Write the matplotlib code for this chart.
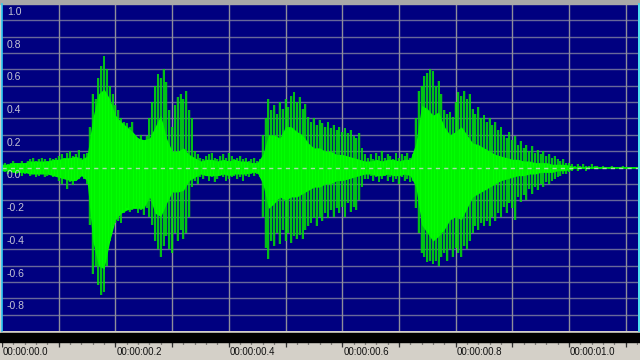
import numpy as np
import matplotlib
matplotlib.use('Agg')
import matplotlib.pyplot as plt
from matplotlib.patches import Rectangle
from matplotlib.lines import Line2D

# sample spacing of the peak (spike) envelope and of the solid body envelope, seconds
PEAK_DT = 0.005
CORE_DT = 0.01

# spike peaks, one value every 5 ms from t = 0
peak_up = [
    0.02, 0.03, 0.02, 0.03, 0.04, 0.03, 0.02, 0.04, 0.03, 0.04,
    0.05, 0.06, 0.04, 0.05, 0.06, 0.05, 0.04, 0.06, 0.05, 0.06,
    0.07, 0.08, 0.06, 0.09, 0.10, 0.07, 0.08, 0.11,
    0.06, 0.08, 0.09,
    0.25, 0.45, 0.42, 0.55, 0.62, 0.68, 0.60, 0.50, 0.45,
    0.38, 0.35, 0.30, 0.28, 0.27, 0.25, 0.28, 0.20, 0.18, 0.20,
    0.17, 0.19, 0.30, 0.40, 0.50, 0.57, 0.55, 0.60, 0.52, 0.35,
    0.25, 0.38, 0.43, 0.45, 0.42, 0.47, 0.35, 0.30, 0.10, 0.08,
    0.06, 0.05, 0.07, 0.08, 0.09, 0.06, 0.05, 0.07, 0.08, 0.06, 0.09,
    0.07, 0.05, 0.06, 0.07, 0.05, 0.06, 0.04, 0.05, 0.06, 0.04, 0.05,
    0.20, 0.30, 0.42, 0.35, 0.38, 0.33, 0.40, 0.36,
    0.42, 0.37, 0.44, 0.46, 0.40, 0.43, 0.36, 0.39, 0.31, 0.28,
    0.30, 0.26, 0.29, 0.27, 0.25, 0.28, 0.24, 0.26, 0.23, 0.25,
    0.22, 0.24, 0.21, 0.23, 0.19, 0.18, 0.21, 0.12, 0.08,
    0.06, 0.08, 0.05, 0.09, 0.07, 0.10, 0.06, 0.08, 0.07, 0.05,
    0.09, 0.06, 0.08, 0.07, 0.09, 0.06, 0.08,
    0.30, 0.47, 0.50, 0.56,
    0.58, 0.60, 0.59, 0.50, 0.53, 0.45, 0.35, 0.33, 0.34, 0.31,
    0.40, 0.46, 0.44, 0.47, 0.42, 0.45, 0.36, 0.33, 0.37, 0.30,
    0.32, 0.28, 0.30, 0.26, 0.28, 0.23, 0.25, 0.20, 0.18, 0.22,
    0.17, 0.19, 0.14, 0.16, 0.12, 0.14, 0.10, 0.13, 0.09, 0.11,
    0.08, 0.10, 0.07, 0.08, 0.06, 0.07, 0.05, 0.04, 0.05, 0.03,
    0.03, 0.02, 0.01, 0.02, 0.01, 0.02, 0.01, 0.01, 0.02, 0.01,
    0.01, 0.005, 0.01, 0.005, 0.005, 0.01, 0.005, 0.005, 0.005, 0.01,
    0.005, 0.005, 0.005, 0.005, 0.005,
]
peak_lo = [
    -0.02, -0.03, -0.04, -0.03, -0.02, -0.04, -0.03, -0.05, -0.04, -0.03,
    -0.05, -0.04, -0.06, -0.05, -0.04, -0.06, -0.05, -0.04, -0.06, -0.05,
    -0.08, -0.10, -0.07, -0.13, -0.09, -0.11, -0.08, -0.07,
    -0.05, -0.07, -0.10,
    -0.35, -0.65, -0.60, -0.72, -0.78, -0.76, -0.60, -0.45, -0.36,
    -0.34, -0.33, -0.34, -0.28, -0.25, -0.27, -0.26, -0.24, -0.28, -0.26,
    -0.29, -0.25, -0.30, -0.35, -0.45, -0.50, -0.55, -0.48, -0.42, -0.50,
    -0.52, -0.40, -0.45, -0.38, -0.44, -0.40, -0.30, -0.12, -0.08, -0.10,
    -0.06, -0.07, -0.05, -0.08, -0.06, -0.09, -0.07, -0.05, -0.06, -0.08, -0.07,
    -0.06, -0.05, -0.07, -0.06, -0.08, -0.05, -0.06, -0.04, -0.05, -0.04, -0.06,
    -0.30, -0.49, -0.56, -0.45, -0.48, -0.40, -0.47, -0.38,
    -0.45, -0.40, -0.46, -0.42, -0.44, -0.41, -0.44, -0.38, -0.36, -0.34,
    -0.31, -0.36, -0.30, -0.33, -0.28, -0.31, -0.26, -0.30, -0.25, -0.28,
    -0.24, -0.30, -0.22, -0.27, -0.24, -0.26, -0.20, -0.12, -0.07,
    -0.07, -0.05, -0.08, -0.06, -0.09, -0.07, -0.05, -0.08, -0.06, -0.09,
    -0.07, -0.10, -0.06, -0.08, -0.07, -0.09, -0.08,
    -0.25, -0.40, -0.52, -0.55,
    -0.58, -0.57, -0.59, -0.57, -0.60, -0.55, -0.52, -0.57, -0.50, -0.55,
    -0.49, -0.52, -0.55, -0.48, -0.50, -0.45, -0.40, -0.36, -0.38, -0.34,
    -0.36, -0.33, -0.36, -0.30, -0.33, -0.28, -0.30, -0.24, -0.28, -0.22,
    -0.25, -0.32, -0.18, -0.21, -0.17, -0.20, -0.13, -0.16, -0.12, -0.14,
    -0.10, -0.12, -0.09, -0.10, -0.08, -0.07, -0.06, -0.05, -0.04, -0.04,
    -0.03, -0.02, -0.01, -0.02, -0.01, -0.01, -0.02, -0.01, -0.01, -0.01,
    -0.005, -0.01, -0.005, -0.005, -0.01, -0.005, -0.005, -0.005, -0.01, -0.005,
    -0.005, -0.005, -0.005, -0.005, -0.005,
]

# solid body of the waveform, one value every 10 ms
core_up = [
    0.02, 0.02, 0.03, 0.03, 0.03, 0.04, 0.04, 0.04,
    0.04, 0.05, 0.05, 0.06, 0.06, 0.07, 0.05, 0.07,
    0.30, 0.45, 0.48, 0.42, 0.32, 0.28, 0.25, 0.22, 0.18, 0.17,
    0.18, 0.25, 0.32, 0.18, 0.10, 0.10, 0.12, 0.08, 0.06,
    0.04, 0.05, 0.05, 0.04, 0.05, 0.04, 0.05, 0.04, 0.04, 0.03, 0.03,
    0.08, 0.20, 0.20, 0.18, 0.25, 0.25, 0.22, 0.20, 0.15, 0.12,
    0.12, 0.10, 0.10, 0.08, 0.08, 0.07, 0.06, 0.05, 0.04,
    0.04, 0.05, 0.04, 0.05, 0.05, 0.04, 0.05, 0.05,
    0.15, 0.38, 0.36, 0.32, 0.34, 0.25, 0.20, 0.22, 0.25, 0.20,
    0.15, 0.14, 0.12, 0.10, 0.08, 0.07, 0.06, 0.05, 0.05, 0.04,
    0.04, 0.03, 0.03, 0.03, 0.02, 0.02, 0.02, 0.015,
    0.005, 0.005, 0.005, 0.005, 0.005, 0.005, 0.005, 0.005, 0.005, 0.005, 0.005, 0.005,
]
core_lo = [
    -0.02, -0.02, -0.03, -0.03, -0.03, -0.04, -0.04, -0.04,
    -0.04, -0.05, -0.06, -0.07, -0.08, -0.08, -0.05, -0.08,
    -0.45, -0.60, -0.62, -0.45, -0.32, -0.28, -0.26, -0.25, -0.25, -0.25,
    -0.18, -0.28, -0.30, -0.22, -0.15, -0.15, -0.14, -0.08, -0.06,
    -0.04, -0.05, -0.05, -0.05, -0.04, -0.05, -0.04, -0.04, -0.04, -0.03, -0.03,
    -0.10, -0.25, -0.22, -0.18, -0.20, -0.18, -0.18, -0.16, -0.14, -0.12,
    -0.12, -0.10, -0.10, -0.08, -0.08, -0.07, -0.06, -0.05, -0.04,
    -0.04, -0.05, -0.05, -0.04, -0.05, -0.05, -0.04, -0.05,
    -0.12, -0.35, -0.40, -0.45, -0.42, -0.38, -0.32, -0.30, -0.32, -0.25,
    -0.18, -0.16, -0.14, -0.12, -0.10, -0.08, -0.07, -0.06, -0.05, -0.05,
    -0.04, -0.04, -0.03, -0.03, -0.03, -0.02, -0.02, -0.015,
    -0.005, -0.005, -0.005, -0.005, -0.005, -0.005, -0.005, -0.005, -0.005, -0.005, -0.005, -0.005,
]

amp_labels = ['1.0', '0.8', '0.6', '0.4', '0.2', '0.0', '-0.2', '-0.4', '-0.6', '-0.8']
amp_label_pos = [1.0, 0.8, 0.6, 0.4, 0.2, 0.0, -0.2, -0.4, -0.6, -0.8]
time_labels = ['00:00:00.0', '00:00:00.2', '00:00:00.4', '00:00:00.6', '00:00:00.8', '00:00:01.0']
time_label_pos = [0.0, 0.2, 0.4, 0.6, 0.8, 1.0]

T_END = 636 / 567  # visible time span (s)

t_peak = np.arange(len(peak_up)) * PEAK_DT
t_core = np.arange(len(core_up)) * CORE_DT

fig = plt.figure(figsize=(6.4, 3.6), dpi=100, facecolor='#d4d0c8')

# --- waveform panel ---
ax = fig.add_axes([2 / 640, 29 / 360, 636 / 640, 327 / 360], facecolor='#000080')
ax.set_xlim(0, T_END)
ax.set_ylim(-1.0, 1.0)
for s in ax.spines.values():
    s.set_visible(False)
ax.set_xticks([])
ax.set_yticks([])

for v in np.arange(-9, 10) / 10:
    if v != 0:
        ax.axhline(v, color='#68689a', lw=1.0, zorder=1)
for t in np.arange(1, 12) / 10:
    ax.axvline(t, color='#8e8e9a', lw=1.0, zorder=1)

# darker haze between the spikes, then the solid body and the spikes themselves
ax.fill_between(t_peak, peak_lo, peak_up, step='mid', color='#1a8a2a', alpha=0.3,
                lw=0, zorder=2)
ax.fill_between(t_core, core_lo, core_up, color='#00ff00', lw=0, zorder=3)
ax.vlines(t_peak, peak_lo, peak_up, color='#00f000', lw=1.1, zorder=3)
ax.axhline(0, color='#a8dca8', lw=1.0, ls=(0, (3, 3)), zorder=4)

for lab, v in zip(amp_labels, amp_label_pos):
    ax.annotate(lab, xy=(0, v), xytext=(5, -3), textcoords='offset pixels',
                ha='left', va='top', fontsize=7.5, color='#c4c4d4',
                family='Liberation Sans', zorder=5)

# --- time ruler ---
rax = fig.add_axes([2 / 640, 0, 636 / 640, 29 / 360])
rax.set_xlim(0, T_END)
rax.set_ylim(360, 331)
rax.axis('off')
fig.patches.append(Rectangle((0, 18 / 360), 1, 9 / 360, transform=fig.transFigure,
                             color='black', zorder=0))
major = np.arange(0, 12) / 10
minor = np.arange(0, 57) / 50
rax.vlines(major, 333, 342, color='#808080', lw=1.0)
rax.vlines(minor, 343, 344.5, color='#303030', lw=0.9)
rax.vlines(major, 342, 347, color='#303030', lw=0.9)
for lab, t in zip(time_labels, time_label_pos):
    rax.annotate(lab, xy=(t, 352.5), xytext=(1, 0), textcoords='offset pixels',
                 ha='left', va='center', fontsize=7, color='#101010',
                 family='Liberation Sans')

# window frame bits: cyan edges and grey strip on top
fig.lines.append(Line2D([1.5 / 640, 1.5 / 640], [29 / 360, 356 / 360],
                        transform=fig.transFigure, color='#30c8f0', lw=1.2))
fig.lines.append(Line2D([638.5 / 640, 638.5 / 640], [29 / 360, 356 / 360],
                        transform=fig.transFigure, color='#30e0f8', lw=1.2))
fig.patches.append(Rectangle((0, 356 / 360), 1, 4 / 360, transform=fig.transFigure,
                             color='#a8a8a8', zorder=0))

fig.savefig('out.png', dpi=100, facecolor=fig.get_facecolor())
